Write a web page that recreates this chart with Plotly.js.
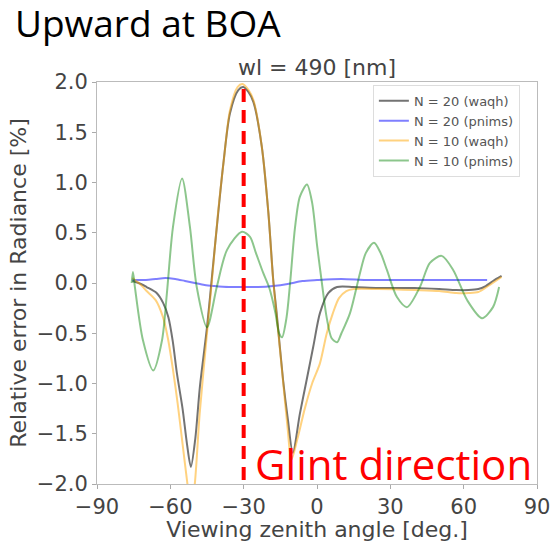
<!DOCTYPE html>
<html>
<head>
<meta charset="utf-8">
<script src="https://cdn.plot.ly/plotly-3.0.1.min.js"></script>
<style>html,body{margin:0;padding:0;background:#fff;}#chart{width:552px;height:542px;}</style>
</head>
<body>
<div id="chart"></div>
<script>
// ---- Data ----
var seriesNames = ["N = 20 (waqh)", "N = 20 (pnims)", "N = 10 (waqh)", "N = 10 (pnims)"];

var xTicks = [-90, -60, -30, 0, 30, 60, 90];
var yTicks = [-2.0, -1.5, -1.0, -0.5, 0.0, 0.5, 1.0, 1.5, 2.0];

// N = 20 (waqh)
var x20w = [-75.5, -72, -69.7, -65.6, -62.9, -60.8, -59, -57.3, -55, -53.2, -51.6, -49.8, -47.9, -45, -43.1, -40.4, -38.3, -35.6, -32.2, -30.2, -28, -26, -22.6, -19.9, -17.9, -16.5, -13.9, -11.9, -9.9, -7, -4.2, -1.5, 1.2, 4.6, 8.2, 15, 25, 40, 50, 57, 62, 66, 69, 72, 75.5];
var y20w = [0.02, -0.01, -0.04, -0.10, -0.20, -0.34, -0.58, -0.90, -1.25, -1.60, -1.83, -1.55, -1.03, -0.44, 0.03, 0.70, 1.19, 1.69, 1.92, 1.95, 1.90, 1.80, 1.36, 0.70, 0.03, -0.30, -0.96, -1.36, -1.69, -1.30, -0.96, -0.63, -0.30, -0.10, -0.04, -0.04, -0.05, -0.05, -0.06, -0.07, -0.07, -0.06, -0.03, 0.02, 0.07];

// N = 20 (pnims)
var x20p = [-75.5, -70, -66, -62, -58, -54, -50, -46, -42, -36, -30, -24, -18, -12, -6, 0, 10, 20, 30, 45, 60, 69.6];
var y20p = [0.03, 0.03, 0.04, 0.05, 0.04, 0.02, 0.0, -0.02, -0.03, -0.04, -0.04, -0.04, -0.03, -0.01, 0.02, 0.03, 0.04, 0.03, 0.03, 0.03, 0.03, 0.03];

// N = 10 (waqh)
var x10w = [-75.5, -72, -69.7, -66, -63, -61, -59, -57, -55, -53, -51.5, -50, -48, -45, -43, -40.4, -38, -35.6, -32.5, -30.5, -28, -26, -22.6, -19.9, -18, -16, -14, -12, -10.5, -8, -5, -2, 1.2, 4, 6.5, 9, 12, 15, 25, 40, 50, 57, 62, 66, 70, 75.5];
var y10w = [0.05, -0.02, -0.08, -0.17, -0.34, -0.55, -0.85, -1.20, -1.60, -2.00, -2.25, -2.00, -1.30, -0.50, 0.02, 0.72, 1.25, 1.72, 1.95, 1.98, 1.92, 1.82, 1.36, 0.70, 0.05, -0.45, -0.95, -1.45, -1.76, -1.55, -1.25, -1.00, -0.80, -0.50, -0.30, -0.15, -0.08, -0.06, -0.06, -0.07, -0.08, -0.10, -0.10, -0.09, -0.03, 0.06];

// N = 10 (pnims)
var x10p = [-75.8, -75.3, -74.5, -71.2, -67, -63.4, -61.4, -58.9, -55.2, -52, -49.2, -45, -41, -36.8, -30.7, -27.4, -25, -22, -19.5, -17, -15.5, -14.3, -12.5, -11, -9, -7, -4.1, -2, 0, 2, 4, 6, 8.2, 10, 13.5, 17.6, 20, 23.3, 26, 28.6, 32.7, 36.8, 42.1, 46.2, 51, 55.7, 61.4, 67.5, 72, 74.5];
var y10p = [0.0, 0.11, -0.04, -0.57, -0.87, -0.57, -0.10, 0.56, 1.04, 0.56, -0.04, -0.44, -0.04, 0.33, 0.51, 0.46, 0.30, 0.10, -0.05, -0.30, -0.50, -0.54, -0.35, 0.0, 0.55, 0.86, 0.98, 0.80, 0.38, 0.0, -0.35, -0.55, -0.59, -0.50, -0.30, 0.10, 0.30, 0.40, 0.30, 0.13, -0.14, -0.24, -0.04, 0.20, 0.27, 0.13, -0.17, -0.35, -0.24, -0.04];

var glintAngle = -30;

// ---- Chart ----
var font = "DejaVu Sans, sans-serif";
var textCol = "#444";
function tr(x, y, name, color) {
  return {x: x, y: y, name: name, type: "scatter", mode: "lines",
          line: {color: color, width: 2, shape: "spline", smoothing: 0.8}};
}
var data = [
  tr(x20w, y20w, seriesNames[0], "rgba(0,0,0,0.55)"),
  tr(x20p, y20p, seriesNames[1], "rgba(0,0,255,0.5)"),
  tr(x10w, y10w, seriesNames[2], "rgba(255,165,0,0.5)"),
  tr(x10p, y10p, seriesNames[3], "rgba(0,128,0,0.45)")
];

var layout = {
  width: 552, height: 542,
  margin: {l: 97, r: 15, t: 82, b: 58},
  paper_bgcolor: "#fff", plot_bgcolor: "#fff",
  showlegend: true,
  xaxis: {range: [-90, 90], tickvals: xTicks, ticks: "outside", ticklen: 4, tickcolor: "#aaa",
          showline: true, linecolor: "#bbb", linewidth: 1, mirror: true, showgrid: false, zeroline: false,
          tickfont: {family: font, size: 21, color: textCol},
          title: {text: "Viewing zenith angle [deg.]", font: {family: font, size: 22, color: textCol}, standoff: 5}},
  yaxis: {range: [-2, 2], tickvals: yTicks, tickformat: ".1f", ticks: "outside", ticklen: 4, tickcolor: "#aaa",
          showline: true, linecolor: "#bbb", linewidth: 1, mirror: true, showgrid: false, zeroline: false,
          tickfont: {family: font, size: 21, color: textCol},
          title: {text: "Relative error in Radiance [%]", font: {family: font, size: 22, color: textCol}, standoff: 4}},
  legend: {x: 0.627, y: 0.993, xanchor: "left", yanchor: "top", bgcolor: "rgba(255,255,255,0.85)",
           bordercolor: "#ddd", borderwidth: 1, font: {family: font, size: 13, color: "#555"},
           tracegroupgap: 0, itemwidth: 30},
  shapes: [{type: "line", xref: "x", yref: "paper", x0: glintAngle, x1: glintAngle, y0: 0.01, y1: 0.99,
            line: {color: "#ff0000", width: 4, dash: "13px,8px"}}],
  annotations: [
    {text: "Upward at BOA", xref: "paper", yref: "paper", x: -0.19, y: 1.147, xanchor: "left", yanchor: "middle",
     showarrow: false, font: {family: "Open Sans, sans-serif", size: 37, color: "#000"}},
    {text: "wl = 490 [nm]", xref: "paper", yref: "paper", x: 0.5, y: 1.0, xanchor: "center", yanchor: "bottom",
     showarrow: false, font: {family: font, size: 22, color: textCol}},
    {text: "Glint direction", xref: "paper", yref: "paper", x: 0.355, y: 0.05, xanchor: "left", yanchor: "middle",
     showarrow: false, font: {family: "Open Sans, sans-serif", size: 42, color: "#ff0000"}}
  ]
};
Plotly.newPlot("chart", data, layout, {displayModeBar: false, staticPlot: true});
</script>
</body>
</html>
